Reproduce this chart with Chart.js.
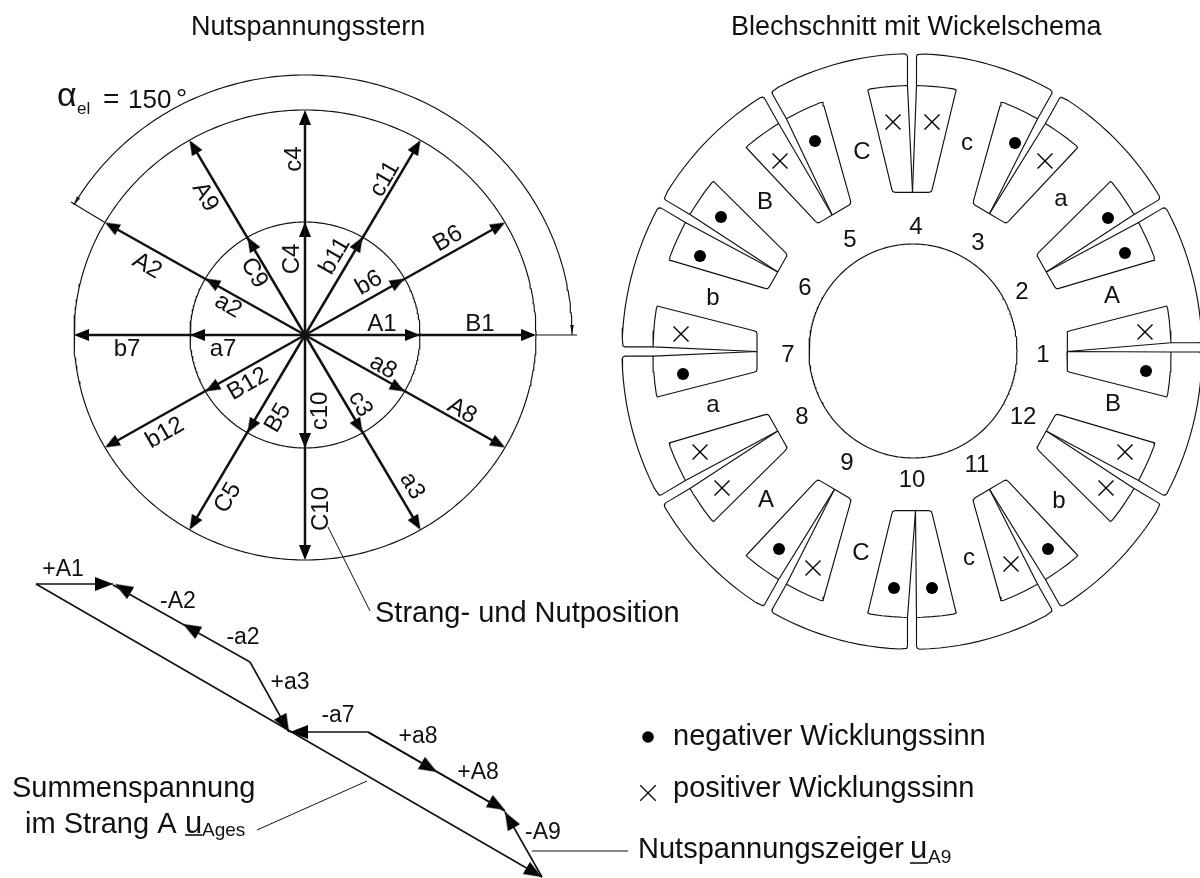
<!DOCTYPE html>
<html><head><meta charset="utf-8">
<style>html,body{margin:0;padding:0;background:#fff}canvas{display:block}</style>
<script src="https://cdn.jsdelivr.net/npm/chart.js@4"></script>
</head><body><canvas id="c" width="1200" height="878"></canvas>
<script>
// ---------- star of slot voltages ----------
const phasorAngles = [0,30,60,90,120,150,180,210,240,270,300,330];
const innerPhasors = ['A1','b6','b11','C4','C9','a2','a7','B12','B5','c10','c3','a8'];
const outerPhasors = ['B1','B6','c11','c4','A9','A2','b7','b12','C5','C10','a3','A8'];
const innerLabelX = [382,369,335,292,254,228,223,248,278,320,360,383];
const innerLabelY = [323,282,255,258,272,305,348,383,417,410,403,366];
const innerLabelRot = [0,-30,-60,-90,60,30,0,-30,-60,-90,60,30];
const outerLabelX = [480,448,385,294,205,147,127,165,228,321,412,462];
const outerLabelY = [323,238,178,158,196,265,348,432,497,508,485,410];
const outerLabelRot = [0,-30,-60,-90,60,30,0,-30,-60,-90,60,30];
const starCentre = [305,335];
const starInnerRadius = [115,113];
const starOuterRadius = [231,225];
const dimArcRadius = [267,260];
// ---------- phasor sum chain ----------
const chainNames = ['+A1','-A2','-a2','+a3','-a7','+a8','+A8','-A9'];
const chainLabelX = [63,178,243,290,338,418,478,543];
const chainLabelY = [570,602,638,683,716,737,773,833];
const chainX1 = [36,113,250,250,368,368,368,542];
const chainY1 = [584,585,662,662,732,732,732,877];
const chainX2 = [113,250,250,289,290,505,505,505];
const chainY2 = [584,662,662,732,732,811,811,812];
const arrowTipX = [113,115,183,289,290,437,505,505,542];
const arrowTipY = [584,584,624,732,732,772,810,812,877];
const arrowFromX = [36,250,250,250,368,368,368,542,36];
const arrowFromY = [584,662,662,662,732,732,732,877,584];
const sumLineX = [36,542];
const sumLineY = [584,877];
// ---------- stator ----------
const slotGapAngles = [0,30,60,90,120,150,180,210,240,270,300,330];
const gapShift  = [4,0,0,0,0,0,0,0,0,0,0,0];
const apexShift = [0,0,0,-0.5,2.7,0,0,0,0,3.5,0,0];
const statorCentre = [912,351.5];
const statorStretchY = 1.027;
const statorOuterR = 290;
const slotU = [155,155.7,158,251,254.7,255.7,257.3,258.2,258.8];
const slotV = [17,19.2,20.2,43.3,44.3,41.5,30,20,10];
const gapHalf = 4.5, gapU = 259;
const boreCentre = [913,351];
const boreRadius = [104,107];
const dotX = [815,721,700,1015,1108,1125,683,779,894,1146,1048,932];
const dotY = [141,217,256,143,218,253,374,549,588,371,549,588];
const crossX = [780,681,893,932,1045,1145,700,722,813,1125,1106,1011];
const crossY = [161,334,122,122,161,332,452,488,568,452,488,564];
const slotNumbers = ['1','2','3','4','5','6','7','8','9','10','11','12'];
const slotNumX = [1043,1022,978,916,850,805,788,802,847,912,977,1023];
const slotNumY = [355,292,243,227,240,288,355,417,463,480,465,417];
const coilNames = ['C','B','b','a','A','C','c','b','B','A','a','c'];
const coilX = [862,765,713,713,766,861,969,1059,1113,1112,1061,967];
const coilY = [152,202,298,405,500,553,558,501,404,296,199,143];
// ---------- legend, leaders ----------
const legendDotX=[648], legendDotY=[737], legendCrossX=[648], legendCrossY=[793];
const leaderX = [[328,370],[257,367],[532,628],[185,202],[910,928]];
const leaderY = [[527,611],[830,781],[851,851],[835,835],[863,863]];
const freeTexts = ['Nutspannungsstern','Blechschnitt mit Wickelschema','Strang- und Nutposition','negativer Wicklungssinn','positiver Wicklungssinn','Nutspannungszeiger','Summenspannung','im Strang A','u','Ages','u','A9','α','el','=','150','°'];
const freeX = [191,731,375,673,673,638,12,25,185,202,910,928,57,77,103,128,176];
const freeY = [35,35,622,745,797,858,797,833,833,836,858,863,106,114,108,108,108];
const freeSize = [27,27,29,29,29,29,29,29,31,19,31,19,34,17,28,26,28];

const D2R = Math.PI/180, INK = '#111';
function arc(c,r,a0,a1,step){
  const n=Math.max(2,Math.round(Math.abs(a1-a0)/(step||1))), out=[];
  for(let i=0;i<=n;i++){const a=(a0+(a1-a0)*i/n)*D2R;out.push({x:c[0]+r[0]*Math.cos(a),y:c[1]-r[1]*Math.sin(a)});}
  return out;
}
function pt(th,u,v){const a=th*D2R;return {x:statorCentre[0]+u*Math.cos(a)-v*Math.sin(a),y:statorCentre[1]-statorStretchY*(u*Math.sin(a)+v*Math.cos(a))};}
function line(points,w){return {type:'scatter',data:points,showLine:true,borderColor:INK,borderWidth:w||1.15,pointRadius:0,fill:false,tension:0,clip:false,borderJoinStyle:'round'};}
function head(len,wid){
  const c=document.createElement('canvas');c.width=c.height=64;const g=c.getContext('2d');
  g.fillStyle='#000';g.beginPath();g.moveTo(32,32);g.lineTo(32+wid/2,32+len);g.lineTo(32-wid/2,32+len);g.closePath();g.fill();return c;
}
function heads(tips,froms,len,wid){
  return {type:'scatter',data:tips,showLine:false,pointStyle:head(len,wid),pointRadius:8,clip:false,
    rotation:tips.map((t,i)=>Math.atan2(t.y-froms[i].y,t.x-froms[i].x)/D2R+90)};
}
const ds=[];
// circles and dimension arc
ds.push(line(arc(starCentre,starInnerRadius,0,360)));
ds.push(line(arc(starCentre,starOuterRadius,0,360)));
ds.push(line(arc(starCentre,dimArcRadius,0,150)));
ds.push(line(arc(boreCentre,boreRadius,0,360)));
// phasors
const centreP={x:starCentre[0],y:starCentre[1]};
const innerTips=[],outerTips=[];
phasorAngles.forEach(a=>{
  const r=a*D2R;
  const p1={x:starCentre[0]+starInnerRadius[0]*Math.cos(r),y:starCentre[1]-starInnerRadius[1]*Math.sin(r)};
  const p2={x:starCentre[0]+starOuterRadius[0]*Math.cos(r),y:starCentre[1]-starOuterRadius[1]*Math.sin(r)};
  innerTips.push(p1);outerTips.push(p2);
  ds.push(line([centreP,{x:p2.x+(centreP.x-p2.x)*0.04,y:p2.y+(centreP.y-p2.y)*0.04}],2.5));
});
const fr=phasorAngles.map(()=>centreP);
ds.push(heads(innerTips,fr,15,12));
ds.push(heads(outerTips,fr,15,12));
// dimension extension lines and tips
ds.push(line([outerTips[0],{x:577,y:335}]));
ds.push(line([outerTips[5],{x:71,y:202}]));
const dimEnd=arc(starCentre,dimArcRadius,150,150)[0];
ds.push(heads([{x:572,y:334},{x:dimEnd.x,y:dimEnd.y}],[{x:572,y:320},{x:dimEnd.x+5,y:dimEnd.y-8}],9,3.6));
// chain
chainX1.forEach((x,i)=>ds.push(line([{x,y:chainY1[i]},{x:chainX2[i],y:chainY2[i]}],1.6)));
ds.push(line(sumLineX.map((x,i)=>({x,y:sumLineY[i]})),1.6));
ds.push(heads(arrowTipX.map((x,i)=>({x,y:arrowTipY[i]})),arrowFromX.map((x,i)=>({x,y:arrowFromY[i]})),18,14));
// stator: slot windows + tooth outlines
slotGapAngles.forEach((th,i)=>{
  const g=gapShift[i],a=apexShift[i];
  [1,-1].forEach(s=>{
    const pts=[pt(th,155,a)];
    slotU.forEach((u,k)=>pts.push(pt(th,u,s*slotV[k])));
    const edge=g+s*gapHalf;
    pts.push(pt(th,gapU,edge));
    pts.push(pt(th,155,a));
    ds.push(line(pts));
  });
  const nextI=(i+1)%12, th2=th+30, v0=g+gapHalf, v1=gapShift[nextI]-gapHalf;
  const tooth=[pt(th,gapU,v0),pt(th,statorOuterR-3,v0),pt(th,statorOuterR-1,v0+0.8)];
  const a0=Math.asin((v0+3)/statorOuterR)/D2R, a1=30+Math.asin((v1-3)/statorOuterR)/D2R;
  for(let d=a0;d<a1;d+=2){const r=(th+d)*D2R;tooth.push({x:statorCentre[0]+statorOuterR*Math.cos(r),y:statorCentre[1]-statorStretchY*statorOuterR*Math.sin(r)});}
  tooth.push(pt(th2,statorOuterR-1,v1-0.8),pt(th2,statorOuterR-3,v1),pt(th2,gapU,v1));
  ds.push(line(tooth));
});
function syms(xs,ys,style,radius,w){return {type:'scatter',data:xs.map((x,i)=>({x,y:ys[i]})),showLine:false,pointStyle:style,pointRadius:radius,borderWidth:w,borderColor:'#000',backgroundColor:'#000',clip:false};}
ds.push(syms(dotX,dotY,'circle',6,0));
ds.push(syms(crossX,crossY,'crossRot',10.6,1.4));
ds.push(syms(legendDotX,legendDotY,'circle',5.8,0));
ds.push(syms(legendCrossX,legendCrossY,'crossRot',11,1.2));
leaderX.forEach((xs,i)=>ds.push(line(xs.map((x,k)=>({x,y:leaderY[i][k]})),i>2?1.6:1)));

const textPlugin={id:'texts',afterDatasetsDraw(chart){
  const ctx=chart.ctx,X=chart.scales.x,Y=chart.scales.y;
  const put=(t,x,y,size,rot,align,base)=>{
    ctx.save();ctx.translate(X.getPixelForValue(x),Y.getPixelForValue(y));ctx.rotate((rot||0)*D2R);
    ctx.font=size+'px "Liberation Sans"';ctx.fillStyle='#111';ctx.textAlign=align;ctx.textBaseline=base;ctx.fillText(t,0,0);ctx.restore();
  };
  innerPhasors.forEach((t,i)=>put(t,innerLabelX[i],innerLabelY[i]+1,24,innerLabelRot[i],'center','middle'));
  outerPhasors.forEach((t,i)=>put(t,outerLabelX[i],outerLabelY[i]+1,24,outerLabelRot[i],'center','middle'));
  chainNames.forEach((t,i)=>put(t,chainLabelX[i],chainLabelY[i],23,0,'center','middle'));
  slotNumbers.forEach((t,i)=>put(t,slotNumX[i],slotNumY[i],24,0,'center','middle'));
  coilNames.forEach((t,i)=>put(t,coilX[i],coilY[i],24,0,'center','middle'));
  freeTexts.forEach((t,i)=>put(t,freeX[i],freeY[i],freeSize[i],0,'left','alphabetic'));
}};
new Chart(document.getElementById('c'),{
  type:'scatter',
  data:{datasets:ds},
  options:{responsive:false,animation:false,events:[],
    layout:{padding:0,autoPadding:false},
    plugins:{legend:{display:false},tooltip:{enabled:false}},
    scales:{x:{type:'linear',min:0,max:1200,display:false},y:{type:'linear',min:0,max:878,reverse:true,display:false}}},
  plugins:[textPlugin]
});
</script></body></html>
